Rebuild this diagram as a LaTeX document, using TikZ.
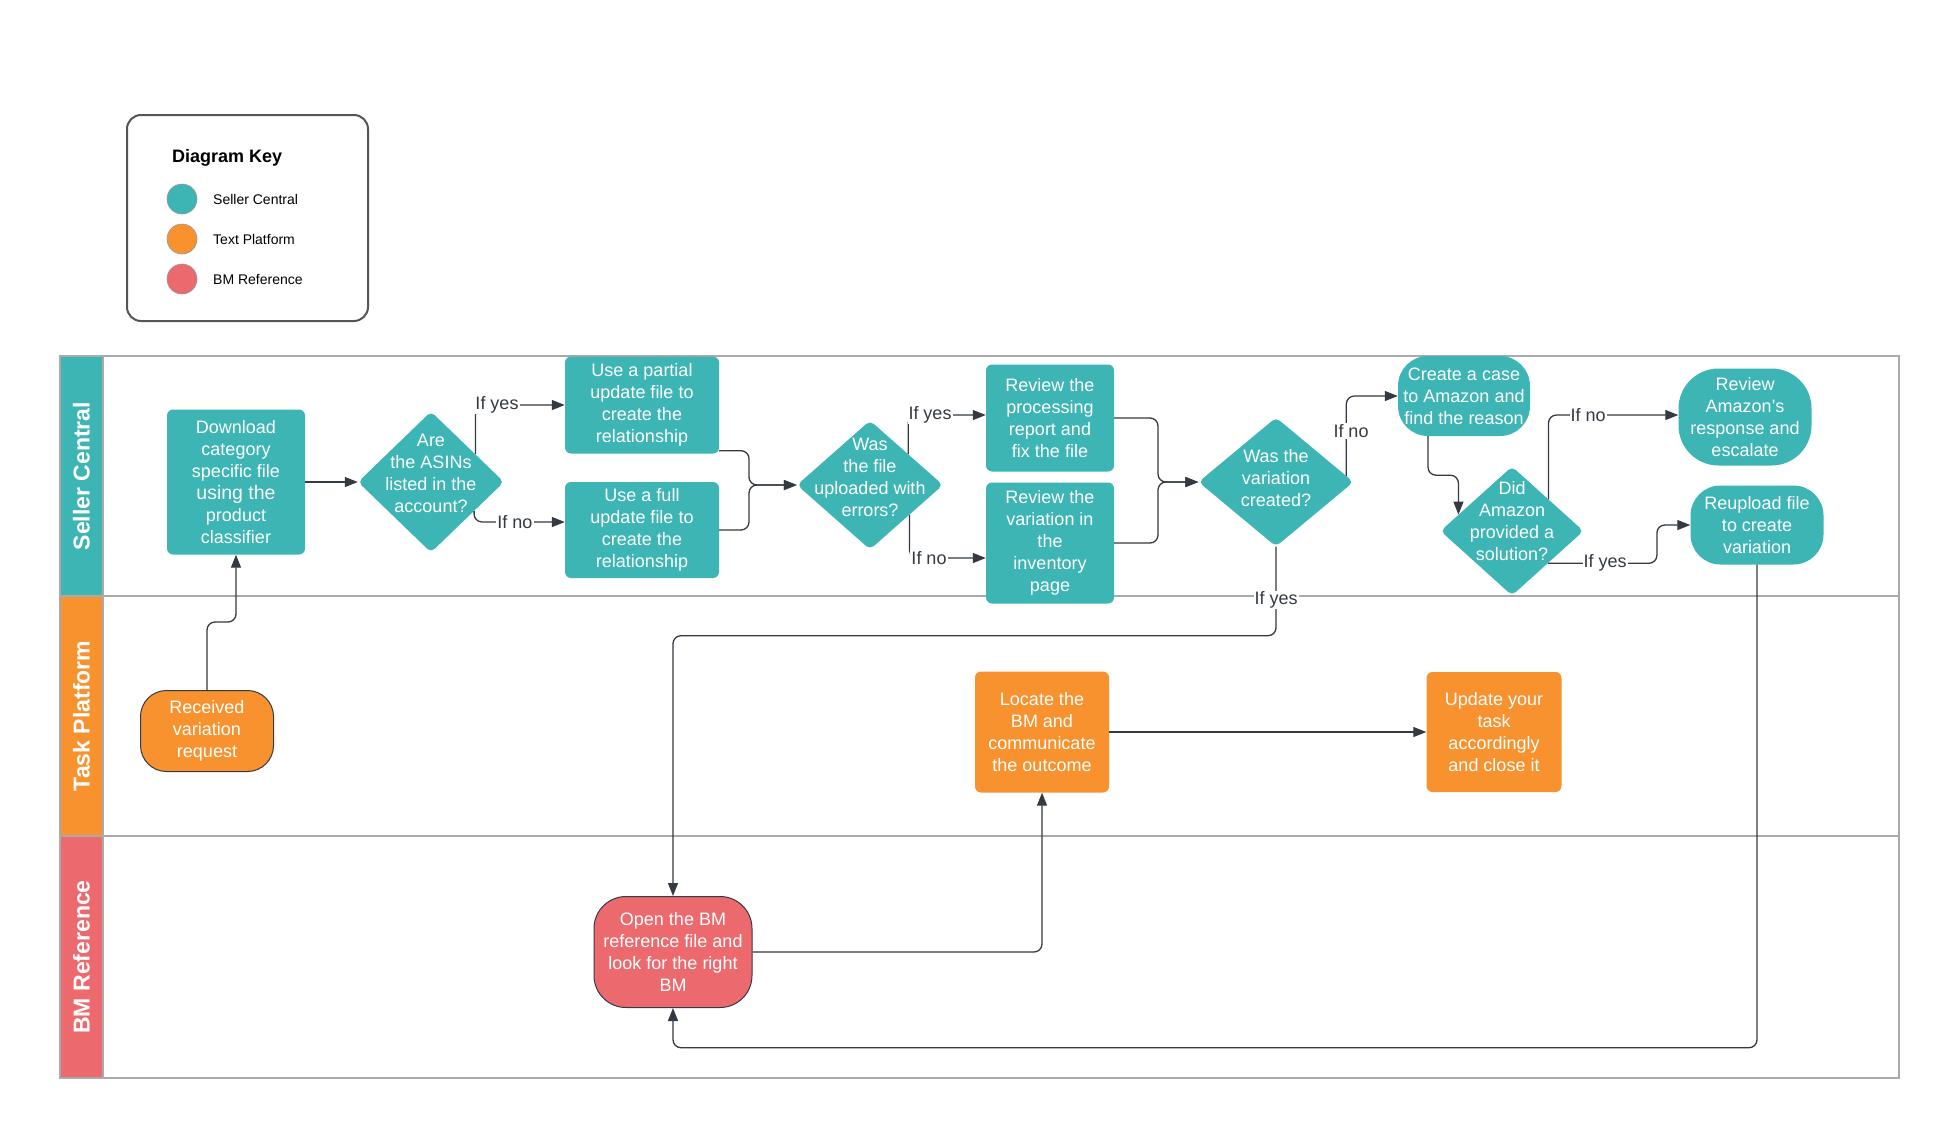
\documentclass[tikz,border=0pt]{standalone}
\usepackage{fontspec}
\setmainfont{Liberation Sans}
\usetikzlibrary{arrows.meta,shapes.geometric,calc}
\definecolor{tealc}{HTML}{3DB5B5}
\definecolor{orangec}{HTML}{F7922F}
\definecolor{redc}{HTML}{EC6A6E}
\definecolor{linec}{HTML}{333A42}
\definecolor{lanec}{HTML}{AAAAAA}
\definecolor{keyc}{HTML}{555555}
\begin{document}
\begin{tikzpicture}[x=1pt,y=-1pt,
  txt/.style={font=\fontsize{18}{22}\selectfont, text=white, align=center, inner sep=0pt},
  procbox/.style={txt, fill=tealc, rounded corners=6pt},
  taskbox/.style={txt, fill=orangec, rounded corners=6pt},
  termbox/.style={txt, fill=tealc, rounded corners=30pt},
  roundbox/.style={txt, draw=linec, line width=1pt, rounded corners=26pt},
  decision/.style={diamond, fill=tealc, rounded corners=5pt, inner sep=0pt},
  conn/.style={draw=linec, line width=1.3pt, rounded corners=8pt, -{Triangle[length=13pt,width=10pt]}},
  lbl/.style={font=\fontsize{18}{21}\selectfont, text=linec, fill=white, inner sep=1pt},
  lanetxt/.style={font=\fontsize{23}{26}\selectfont\bfseries, text=white, rotate=90, inner sep=0pt},
  keydot/.style={circle, minimum size=30pt, inner sep=0pt, draw=black!40, line width=0.6pt},
  keytxt/.style={font=\fontsize{14}{16}\selectfont, anchor=west, inner sep=0pt}
]
\useasboundingbox (0,0) rectangle (1952,1130);
\fill[white] (0,0) rectangle (1952,1130);

% ---------- legend ----------
\draw[draw=keyc, line width=2pt, rounded corners=14pt] (127,115) rectangle (368,321);
\node[font=\fontsize{18}{22}\selectfont\bfseries, anchor=west, inner sep=0pt] (keyt) at (172,158) {Diagram Key};
\node[keydot, fill=tealc] (k1) at (182,199) {};
\node[keydot, fill=orangec] (k2) at (182,239) {};
\node[keydot, fill=redc] (k3) at (182,279) {};
\node[keytxt] (k1t) at (213,199) {Seller Central};
\node[keytxt] (k2t) at (213,239) {Text Platform};
\node[keytxt] (k3t) at (213,279) {BM Reference};

% ---------- lanes ----------
\fill[tealc] (60,356) rectangle (103,596);
\fill[orangec] (60,596) rectangle (103,836);
\fill[redc] (60,836) rectangle (103,1078);
\draw[lanec, line width=2pt] (60,356) rectangle (1899,1078);
\draw[lanec, line width=2pt] (60,596) -- (1899,596) (60,836) -- (1899,836) (103,356) -- (103,1078);
\node[lanetxt] (lane1) at (81.5,476) {Seller Central};
\node[lanetxt] (lane2) at (81.5,716) {Task Platform};
\node[lanetxt] (lane3) at (81.5,957) {BM Reference};

% ---------- nodes ----------
\node[procbox, minimum width=138pt, minimum height=145pt] (dl) at (236,482)
  {Download\\category\\specific file\\{\fontsize{19.5}{22}\selectfont using the}\\product\\classifier};
\node[decision, minimum width=146pt, minimum height=141pt] (d1) at (431,482) {};
\node[txt] (d1t) at (431,473) {Are\\the ASINs\\listed in the\\account?};
\node[procbox, minimum width=154pt, minimum height=97pt] (partial) at (642,405)
  {Use a partial\\update file to\\create the\\relationship};
\node[procbox, minimum width=154pt, minimum height=96pt] (full) at (642,530)
  {Use a full\\update file to\\create the\\relationship};
\node[decision, minimum width=146pt, minimum height=129pt] (d2) at (870,485) {};
\node[txt] (d2t) at (870,477) {Was\\the file\\uploaded with\\errors?};
\node[procbox, minimum width=128pt, minimum height=107pt] (rev1) at (1050,418)
  {Review the\\processing\\report and\\fix the file};
\node[procbox, minimum width=128pt, minimum height=121pt] (rev2) at (1050,543)
  {Review the\\variation in\\the\\inventory\\page};
\node[decision, minimum width=155pt, minimum height=129pt] (d3) at (1276,482) {};
\node[txt] (d3t) at (1276,478) {Was the\\variation\\created?};
\node[termbox, minimum width=132pt, minimum height=80pt] (create) at (1464,396)
  {Create a case\\to Amazon and\\find the reason};
\node[decision, minimum width=143pt, minimum height=129pt] (d4) at (1512,531) {};
\node[txt] (d4t) at (1512,521) {Did\\Amazon\\provided a\\solution?};
\node[termbox, minimum width=133pt, minimum height=97pt, rounded corners=40pt] (revamz) at (1745,417)
  {Review\\Amazon's\\response and\\escalate};
\node[termbox, minimum width=133pt, minimum height=79pt] (reup) at (1757,525)
  {Reupload file\\to create\\variation};
\node[roundbox, fill=orangec, minimum width=133pt, minimum height=81pt] (recv) at (207,731)
  {Received\\variation\\request};
\node[taskbox, minimum width=134pt, minimum height=121pt] (locate) at (1042,732)
  {Locate the\\BM and\\communicate\\the outcome};
\node[taskbox, minimum width=135pt, minimum height=120pt] (update) at (1494,732)
  {Update your\\task\\accordingly\\and close it};
\node[roundbox, fill=redc, minimum width=158pt, minimum height=111pt, rounded corners=32pt] (bm) at (673,952)
  {Open the BM\\reference file and\\look for the right\\BM};

% ---------- connectors ----------
\coordinate (m1) at (749,485);
\coordinate (m2) at (1158,482);
\draw[conn] (recv.north) -- ++(0,-68) -| (dl.south);
\draw[conn] (dl.east) -- (d1.west);
\draw[conn] (d1.32) |- (partial.west);
\draw[conn] (d1.-34) |- ([yshift=8pt]full.west);
\draw[conn] ([yshift=3pt]partial.south east) -| (m1) -- (d2.west);
\draw[conn] (full.east) -| (m1) -- (d2.west);
\draw[conn] (d2.39) |- ([yshift=3pt]rev1.west);
\draw[conn] (d2.-37) |- ([yshift=-15pt]rev2.west);
\draw[conn] (rev1.east) -| (m2) -- (d3.west);
\draw[conn] (rev2.east) -| (m2) -- (d3.west);
\draw[conn] (d3.5) |- (create.west);
\draw[conn] (d3.south) -- ++(0,89) -| (bm.north);
\draw[conn] ([xshift=-36pt]create.south) -- ++(0,39) -| (d4.163);
\draw[conn] (d4.41) |- ([yshift=2pt]revamz.west);
\draw[conn] (d4.-42) -- ++(109,0) |- (reup.west);
\draw[conn] (reup.south) -- ++(0,483) -| (bm.south);
\draw[conn] (bm.east) -| (locate.south);
\draw[conn] (locate.east) -- (update.west);

% ---------- connector labels ----------
\node[lbl] (l1) at (497,405) {If yes};
\node[lbl] (l2) at (515,522) {If no};
\node[lbl] (l3) at (930,415) {If yes};
\node[lbl] (l4) at (929,558) {If no};
\node[lbl] (l5) at (1351,431) {If no};
\node[lbl] (l6) at (1276,600) {If yes};
\node[lbl] (l7) at (1588,415) {If no};
\node[lbl] (l8) at (1605,563) {If yes};
\end{tikzpicture}
\end{document}
